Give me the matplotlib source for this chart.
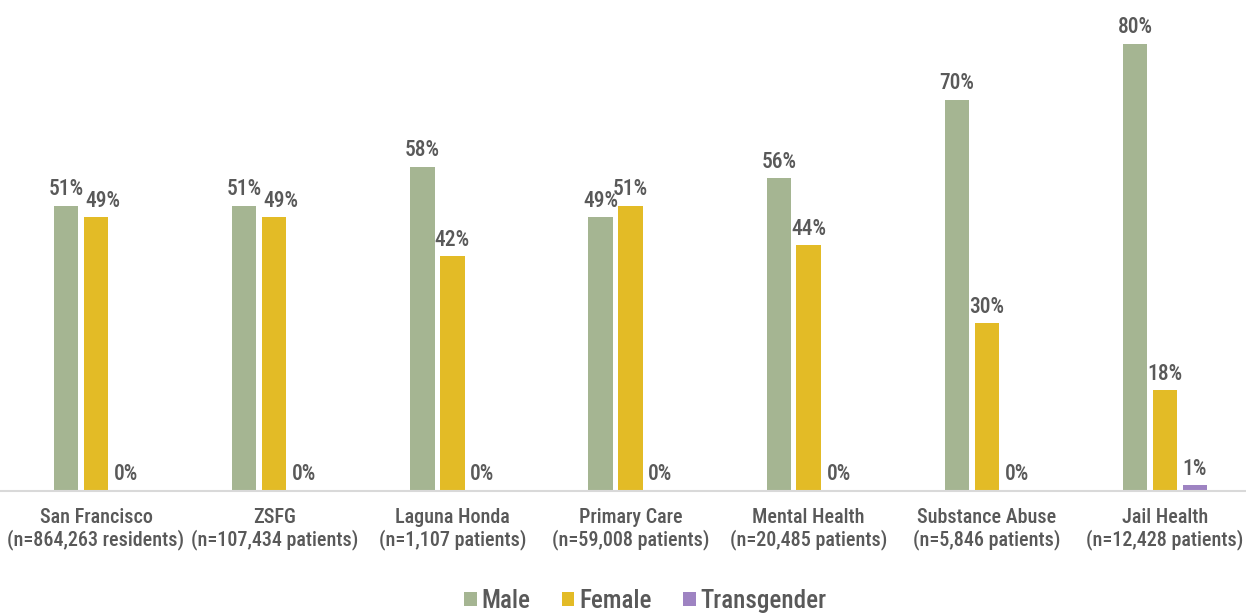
import numpy as np
import matplotlib
matplotlib.use('Agg')
from matplotlib import pyplot as plt
from matplotlib import font_manager

# narrow sans, first one that is present
names = set(f.name for f in font_manager.fontManager.ttflist)
fam = 'Roboto'
for cand in ['Roboto Condensed', 'Archivo Narrow', 'PT Sans Narrow', 'Liberation Sans Narrow',
             'Barlow Semi Condensed', 'Open Sans Condensed']:
    if cand in names:
        fam = cand
        break
plt.rcParams['font.family'] = [fam, 'DejaVu Sans']
plt.rcParams['font.weight'] = 'medium'

categories = ['San Francisco\n(n=864,263 residents)', 'ZSFG\n(n=107,434 patients)',
              'Laguna Honda\n(n=1,107 patients)', 'Primary Care\n(n=59,008 patients)',
              'Mental Health\n(n=20,485 patients)', 'Substance Abuse\n(n=5,846 patients)',
              'Jail Health\n(n=12,428 patients)']
male = [51, 51, 58, 49, 56, 70, 80]
female = [49, 49, 42, 51, 44, 30, 18]
transgender = [0, 0, 0, 0, 0, 0, 1]
series = ['Male', 'Female', 'Transgender']
colors = ['#A5B592', '#E3BB26', '#9E83C2']
txt = '#595959'

fig = plt.figure(figsize=(12.46, 6.14), dpi=100)
ax = fig.add_axes([0, 0.2003, 1, 0.7963])

x = np.arange(len(categories))
w = 0.137
step = 0.168
vals = [male, female, transgender]
for i, (v, c, s) in enumerate(zip(vals, colors, series)):
    xs = x + (i - 1) * step
    ax.bar(xs, v, w, color=c, label=s, zorder=2)
    for j, (xx, vv) in enumerate(zip(xs, v)):
        dx = 5 if (i == 1 and abs(male[j] - female[j]) < 5 and female[j] < male[j]) else 0
        ax.annotate(f'{vv}%', (xx, vv), xytext=(dx, 4), textcoords='offset points',
                    ha='center', va='bottom', fontsize=15.5, color=txt)

ax.set_xlim(-0.539, 6.4545)
ax.set_ylim(0, 87.5)
ax.set_xticks(x)
ax.set_xticklabels(categories, fontsize=14.5, color=txt, linespacing=1.15)
ax.tick_params(axis='x', length=0, pad=12)
ax.set_yticks([])
for sp in ['top', 'right', 'left']:
    ax.spines[sp].set_visible(False)
ax.spines['bottom'].set_color('#D9D9D9')
ax.spines['bottom'].set_linewidth(1.5)

leg = fig.legend(loc='lower center', bbox_to_anchor=(0.518, -0.035), ncol=3, frameon=False,
                 fontsize=18, handlelength=0.5, handleheight=0.5, handletextpad=0.2,
                 columnspacing=1.25)
for t in leg.get_texts():
    t.set_color(txt)

fig.savefig('out.png', dpi=100)
